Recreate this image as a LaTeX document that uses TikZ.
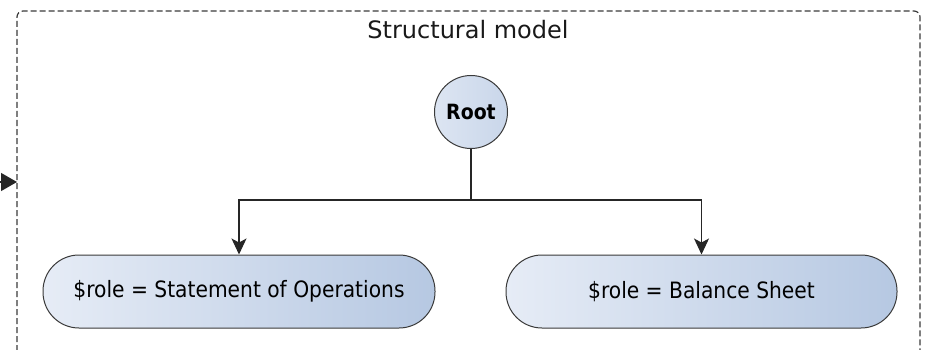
\documentclass[tikz,border=0pt]{standalone}
\usepackage{fontspec}
\setmainfont{DejaVu Sans}
\newfontfamily\condfont{DejaVu Sans Condensed}
\usetikzlibrary{arrows.meta}
\definecolor{fillL}{HTML}{E6ECF6}
\definecolor{fillR}{HTML}{B6C8E2}
\definecolor{edgec}{HTML}{3A3A3A}
\tikzset{
  frame/.style={draw=edgec, line width=1.2pt, dash pattern=on 6pt off 3pt, rounded corners=6pt},
  rolebox/.style={draw=edgec, line width=1pt, left color=fillL, right color=fillR, rounded corners=36pt,
     minimum width=392pt, minimum height=73pt, font=\condfont\fontsize{22.5}{24}\selectfont, text=black},
  rootnode/.style={circle, draw=edgec, line width=1pt, left color=fillL!80!fillR, right color=fillR!60!fillL, minimum size=73pt, inner sep=0pt,
     font=\condfont\bfseries\fontsize{21}{23}\selectfont, text=black},
  conn/.style={draw=black!85, line width=1.2pt},
  arr/.style={conn, -{Stealth[length=16pt,width=15pt,inset=4pt]}},
}
\begin{document}
\begin{tikzpicture}[x=1pt,y=-1pt]
\useasboundingbox (0,0) rectangle (928,350);
\draw[frame] (17,360) -- (17,11) -- (920,11) -- (920,360);
\node[font=\fontsize{24}{26}\selectfont, text=black!90] (title) at (468,30) {Structural model};
\node[rootnode] (root) at (471,112) {Root};
\node[rolebox] (left) at (239,291.5) {\$role = Statement of Operations};
\node[rolebox, minimum width=391pt] (right) at (701.5,291.5) {\$role = Balance Sheet};
\coordinate (split) at (471,200);
\coordinate (ext) at (-5,182);
\coordinate (extend) at (17,182);
\draw[conn] (root.south) -- (split);
\draw[arr] (split) -| (left.north);
\draw[arr] (split) -| (right.north);
\draw[conn, -{Triangle[length=16pt,width=18pt]}] (ext) -- (extend);
\end{tikzpicture}
\end{document}
